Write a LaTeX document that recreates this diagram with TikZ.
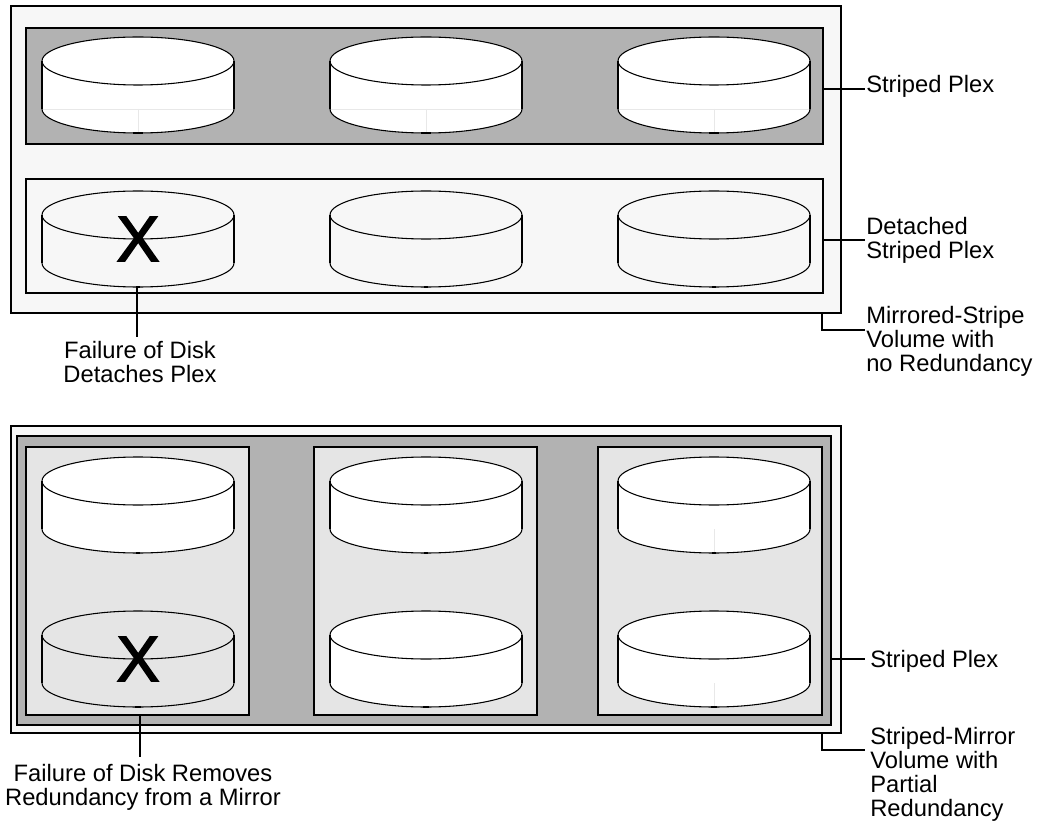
\documentclass[tikz,border=0pt]{standalone}
\usepackage{fontspec}
\setmainfont{Liberation Sans}
\newfontfamily\crossfont[FakeBold=2.5]{Liberation Sans}
\definecolor{vol}{HTML}{F7F7F7}
\definecolor{plexdark}{HTML}{B2B2B2}
\definecolor{mirrorgray}{HTML}{E5E5E5}
\definecolor{seam}{HTML}{E8E8E8}
\tikzset{
  x=0.75pt,y=-0.75pt,
  boxthick/.style={draw=black,line width=1.5pt,inner sep=0pt,outer sep=0pt,anchor=north west},
  leader/.style={draw=black,line width=1.3pt},
  lbl/.style={inner sep=0pt,align=left,anchor=base west,font=\fontsize{17.8}{18}\selectfont},
  lblc/.style={inner sep=0pt,align=center,anchor=base,font=\fontsize{17.8}{18}\selectfont},
  crossmark/.style={inner sep=0pt,font=\crossfont\fontsize{48}{48}\selectfont},
}
% #1 left x, #2 top-ellipse centre y, #3 fill, #4 extra drawing
\newcommand{\diskshape}[4]{%
  \begin{scope}[shift={(#1,#2)}]
    \fill[#3] (0,0) -- (0,48) arc[start angle=180,end angle=0,x radius=96,y radius=24] -- (192,0) arc[start angle=0,end angle=-180,x radius=96,y radius=24] -- cycle;
    #4
    \draw[line width=0.8pt] (0,0) arc[start angle=180,end angle=-180,x radius=96,y radius=24];
    \draw[line width=1.1pt] (0,0) -- (0,48) (192,0) -- (192,48);
    \draw[line width=0.8pt] (0,48) arc[start angle=180,end angle=0,x radius=96,y radius=24];
  \end{scope}}
\newcommand{\seamlines}{\draw[seam,line width=0.6pt] (0,48) -- (192,48) (96,48) -- (96,71);\draw[line width=1.2pt] (91,72) -- (101,72);}
\newcommand{\tick}{\draw[line width=1pt] (93,72) -- (99,72);}
\newcommand{\ticksmall}{\draw[line width=0.9pt] (94,72) -- (98,72);}
\begin{document}
\begin{tikzpicture}
\useasboundingbox (0,0) rectangle (1045,823);
\fill[white] (0,0) rectangle (1045,823);
% ===== top volume
\node[boxthick,fill=vol,minimum width=830*0.75pt,minimum height=307*0.75pt] (volA) at (11,6) {};
\node[boxthick,fill=plexdark,minimum width=797*0.75pt,minimum height=116*0.75pt] (plexA) at (26,28) {};
\node[boxthick,fill=vol,minimum width=797*0.75pt,minimum height=114*0.75pt] (plexB) at (26,179) {};
\diskshape{42}{61}{white}{\seamlines}
\diskshape{330}{61}{white}{\seamlines}
\diskshape{618}{61}{white}{\seamlines}
\diskshape{42}{215}{vol}{\ticksmall}
\diskshape{330}{215}{vol}{\ticksmall}
\diskshape{618}{215}{vol}{\ticksmall}
\node[crossmark] (xA) at (138,239) {X};
% ===== bottom volume
\node[boxthick,fill=vol,minimum width=830*0.75pt,minimum height=307*0.75pt] (volB) at (11,426) {};
\node[boxthick,fill=plexdark,minimum width=814*0.75pt,minimum height=289*0.75pt] (plexC) at (17,436) {};
\node[boxthick,fill=mirrorgray,minimum width=223*0.75pt,minimum height=268*0.75pt] (mirA) at (26,447) {};
\node[boxthick,fill=mirrorgray,minimum width=223*0.75pt,minimum height=268*0.75pt] (mirB) at (314,447) {};
\node[boxthick,fill=mirrorgray,minimum width=224*0.75pt,minimum height=268*0.75pt] (mirC) at (598,447) {};
\diskshape{42}{481}{white}{\ticksmall}
\diskshape{330}{481}{white}{\ticksmall}
\diskshape{618}{481}{white}{\draw[seam,line width=0.6pt] (96,48) -- (96,71);\ticksmall}
\diskshape{42}{635}{mirrorgray}{\tick}
\diskshape{330}{635}{white}{\tick}
\diskshape{618}{635}{white}{\draw[seam,line width=0.6pt] (96,48) -- (96,71);\tick}
\node[crossmark] (xB) at (138,659) {X};
% ===== labels
\node[lbl] (lA) at (866,92.3) {Striped Plex};
\node[lbl] (lB) at (866,259) {Detached\\Striped Plex};
\node[lbl] (lC) at (866,371.3) {Mirrored-Stripe\\Volume with\\no Redundancy};
\node[lblc] (lD) at (140,382.3) {Failure of Disk\\Detaches Plex};
\node[lbl] (lE) at (870,667.7) {Striped Plex};
\node[lbl] (lF) at (870,816) {Striped-Mirror\\Volume with\\Partial\\Redundancy};
\node[lblc] (lG) at (143,805.7) {Failure of Disk Removes\\Redundancy from a Mirror};
% ===== leaders
\coordinate (jA) at (865,89);
\draw[leader] (plexA.east |- jA) -- (jA);
\coordinate (jB) at (865,240);
\draw[leader] (plexB.east |- jB) -- (jB);
\coordinate (cC) at (822,330);
\coordinate (jC) at (865,330);
\draw[leader] (cC |- volA.south) -- (cC) -- (jC);
\coordinate (cD) at (137,287);
\coordinate (eD) at (137,337);
\draw[leader] (cD) -- (eD);
\coordinate (jE) at (865,659);
\draw[leader] (plexC.east |- jE) -- (jE);
\coordinate (cF) at (822,750);
\coordinate (jF) at (865,750);
\draw[leader] (cF |- volB.south) -- (cF) -- (jF);
\coordinate (cG) at (140,715);
\coordinate (eG) at (140,757);
\draw[leader] (cG) -- (eG);
\end{tikzpicture}
\end{document}
